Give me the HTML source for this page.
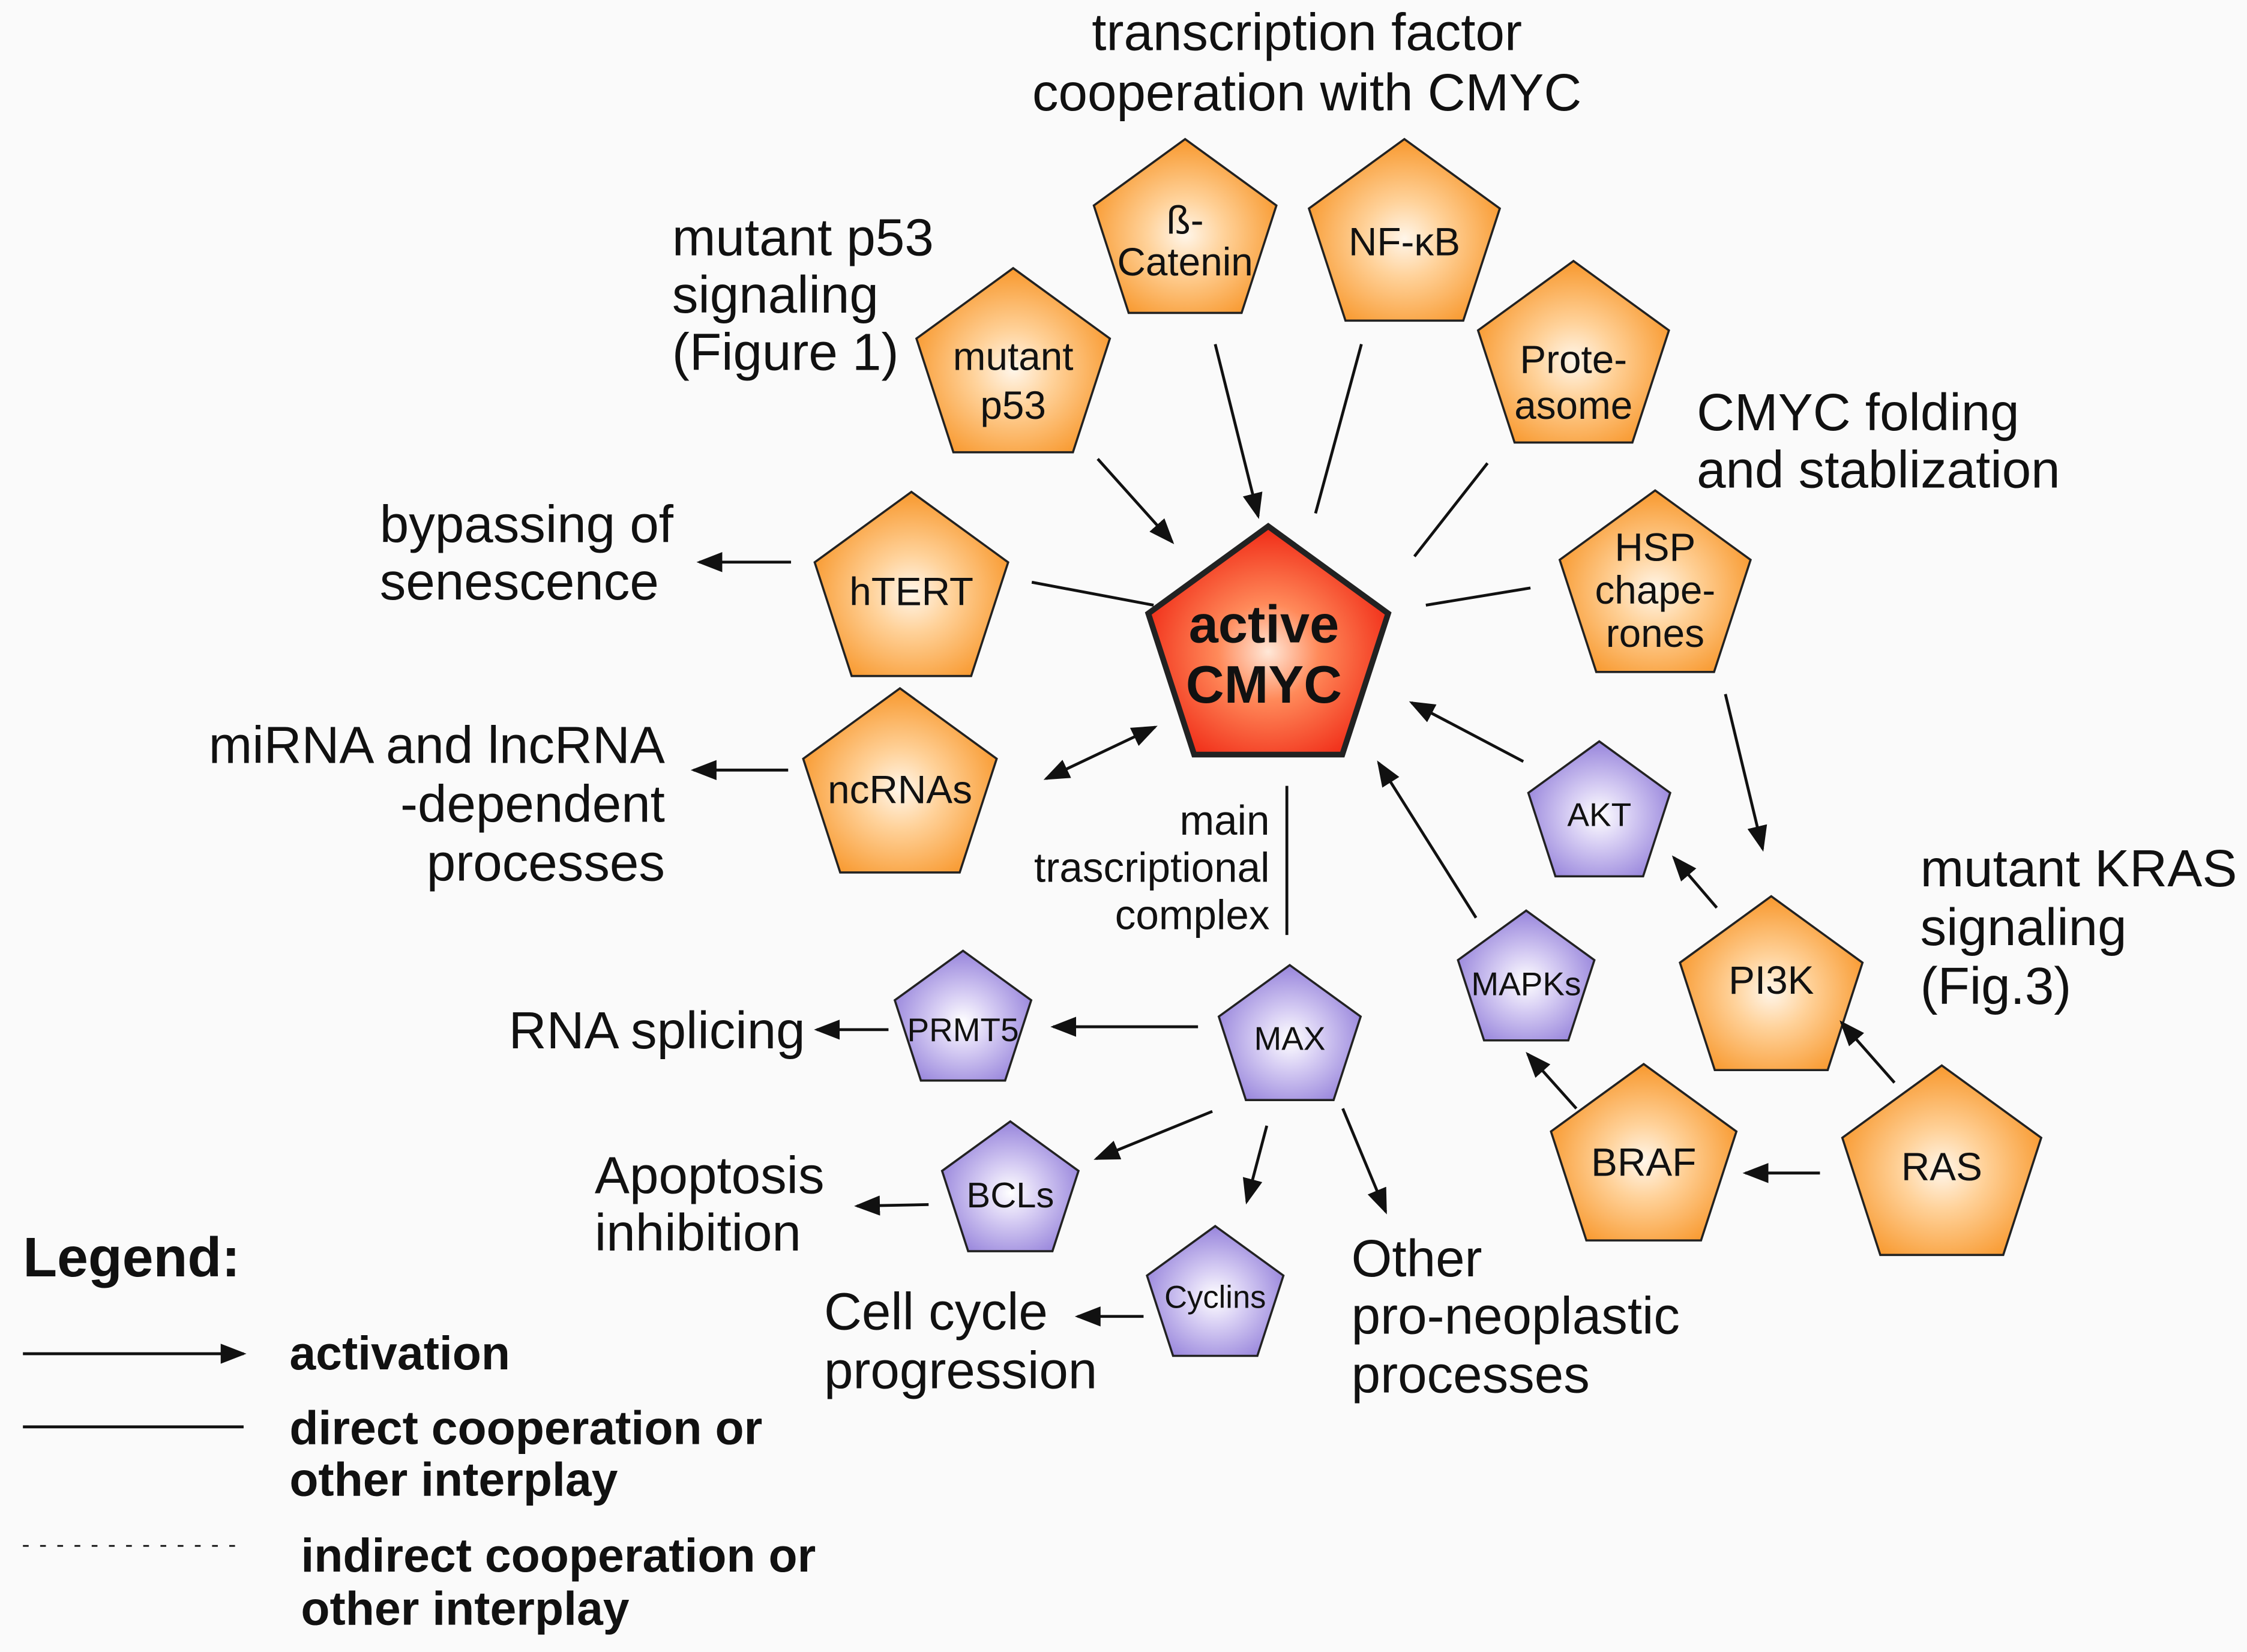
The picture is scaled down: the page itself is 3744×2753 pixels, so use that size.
<!DOCTYPE html>
<html><head><meta charset="utf-8"><style>
html,body{margin:0;padding:0;background:#fff}
svg{display:block}
text{font-family:"Liberation Sans",Arial,sans-serif;fill:#111}
</style></head><body>
<svg width="3744" height="2753" viewBox="0 0 1568 1152" preserveAspectRatio="none" xmlns="http://www.w3.org/2000/svg">
<defs>
<radialGradient id="og" cx="50%" cy="55%" r="60%"><stop offset="0" stop-color="#fff6ea"/><stop offset="0.35" stop-color="#ffd29a"/><stop offset="1" stop-color="#f7901e"/></radialGradient>
<radialGradient id="pg" cx="50%" cy="55%" r="60%"><stop offset="0" stop-color="#ffffff"/><stop offset="0.35" stop-color="#d8cff4"/><stop offset="1" stop-color="#8e7ad8"/></radialGradient>
<radialGradient id="rg" cx="50%" cy="55%" r="60%"><stop offset="0" stop-color="#ffe8d8"/><stop offset="0.35" stop-color="#ff8a5a"/><stop offset="1" stop-color="#ee1c0c"/></radialGradient>
<marker id="ah" markerUnits="userSpaceOnUse" markerWidth="18" markerHeight="14" refX="16" refY="7" orient="auto"><path d="M0,0 L18,7 L0,14 z" fill="#111"/></marker>
<marker id="as" markerUnits="userSpaceOnUse" markerWidth="18" markerHeight="14" refX="2" refY="7" orient="auto"><path d="M18,0 L0,7 L18,14 z" fill="#111"/></marker>
</defs>
<rect x="0" y="0" width="1568" height="1152" fill="#fafafa"/>
<g id="pents" stroke="#222" stroke-width="1.5">
</g>
<script>
(function(){
var P=[
[827,164,67,'og'],[980,167,70,'og'],[707,258,71,'og'],[1098,252,70,'og'],[636,414,71,'og'],
[1155,412,70,'og'],[628,551,71,'og'],[1236,692,67,'og'],[1355,816,73,'og'],[1147,810,68,'og'],
[1116,569,52,'pg'],[1065,685,50,'pg'],[900,725,52,'pg'],[672,713,50,'pg'],[705,832,50,'pg'],[848,905,50,'pg'],
[885,455,88,'rg']];
var g=document.getElementById('pents');var ns='http://www.w3.org/2000/svg';
P.forEach(function(p){var pts=[];for(var i=0;i<5;i++){var a=-Math.PI/2+i*2*Math.PI/5;pts.push((p[0]+p[2]*Math.cos(a)).toFixed(1)+','+(p[1]+p[2]*Math.sin(a)).toFixed(1));}
var e=document.createElementNS(ns,'polygon');e.setAttribute('points',pts.join(' '));e.setAttribute('fill','url(#'+p[3]+')');if(p[3]=='rg')e.setAttribute('stroke-width','4');g.appendChild(e);});
})();
</script>
<g stroke="#111" stroke-width="2" fill="none">
<line x1="766" y1="320" x2="818" y2="378" marker-end="url(#ah)"/>
<line x1="848" y1="240" x2="878" y2="360" marker-end="url(#ah)"/>
<line x1="950" y1="240" x2="918" y2="358"/>
<line x1="1038" y1="323" x2="987" y2="388"/>
<line x1="720" y1="406" x2="805" y2="422"/>
<line x1="1068" y1="410" x2="995" y2="422"/>
<line x1="552" y1="392" x2="488" y2="392" marker-end="url(#ah)"/>
<line x1="550" y1="537" x2="484" y2="537" marker-end="url(#ah)"/>
<line x1="730" y1="543" x2="806" y2="507" marker-end="url(#ah)" marker-start="url(#as)"/>
<line x1="1063" y1="531" x2="985" y2="490" marker-end="url(#ah)"/>
<line x1="1030" y1="640" x2="962" y2="532" marker-end="url(#ah)"/>
<line x1="1204" y1="484" x2="1230" y2="592" marker-end="url(#ah)"/>
<line x1="1198" y1="633" x2="1168" y2="598" marker-end="url(#ah)"/>
<line x1="1322" y1="755" x2="1285" y2="713" marker-end="url(#ah)"/>
<line x1="1270" y1="818" x2="1218" y2="818" marker-end="url(#ah)"/>
<line x1="1100" y1="773" x2="1066" y2="735" marker-end="url(#ah)"/>
<line x1="898" y1="548" x2="898" y2="652"/>
<line x1="836" y1="716" x2="735" y2="716" marker-end="url(#ah)"/>
<line x1="620" y1="718" x2="570" y2="718" marker-end="url(#ah)"/>
<line x1="846" y1="775" x2="765" y2="808" marker-end="url(#ah)"/>
<line x1="648" y1="840" x2="598" y2="841" marker-end="url(#ah)"/>
<line x1="884" y1="785" x2="870" y2="838" marker-end="url(#ah)"/>
<line x1="937" y1="773" x2="967" y2="845" marker-end="url(#ah)"/>
<line x1="798" y1="918" x2="752" y2="918" marker-end="url(#ah)"/>
<line x1="16" y1="944" x2="170" y2="944" marker-end="url(#ah)"/>
<line x1="16" y1="995" x2="170" y2="995"/>
<line x1="16" y1="1078" x2="165" y2="1078" stroke-width="1.2" stroke-dasharray="4,8"/>
</g>
<g font-size="36.5">
<text x="912" y="35" text-anchor="middle">transcription factor</text>
<text x="912" y="77" text-anchor="middle">cooperation with CMYC</text>
<text x="469" y="178">mutant p53</text><text x="469" y="218">signaling</text><text x="469" y="258">(Figure 1)</text>
<text x="1184" y="300">CMYC folding</text><text x="1184" y="340">and stablization</text>
<text x="265" y="378">bypassing of</text><text x="265" y="418">senescence</text>
<text x="464" y="532" text-anchor="end">miRNA and lncRNA</text><text x="464" y="573" text-anchor="end">-dependent</text><text x="464" y="614" text-anchor="end">processes</text>
<text x="1340" y="618">mutant KRAS</text><text x="1340" y="659">signaling</text><text x="1340" y="700">(Fig.3)</text>
<text x="355" y="731">RNA splicing</text>
<text x="415" y="832">Apoptosis</text><text x="415" y="872">inhibition</text>
<text x="575" y="927">Cell cycle</text><text x="575" y="968">progression</text>
<text x="943" y="890">Other</text><text x="943" y="930">pro-neoplastic</text><text x="943" y="971">processes</text>
</g>
<g font-size="29" text-anchor="end">
<text x="886" y="582">main</text><text x="886" y="615">trascriptional</text><text x="886" y="648">complex</text>
</g>
<g font-weight="bold">
<text x="16" y="890" font-size="39">Legend:</text>
<g font-size="33">
<text x="202" y="955">activation</text>
<text x="202" y="1007">direct cooperation or</text><text x="202" y="1043">other interplay</text>
<text x="210" y="1096">indirect cooperation or</text><text x="210" y="1133">other interplay</text>
</g>
</g>
<g font-size="27.5" text-anchor="middle">
<text x="827" y="163">ß-</text><text x="827" y="192">Catenin</text>
<text x="980" y="178">NF-κB</text>
<text x="707" y="258">mutant</text><text x="707" y="292">p53</text>
<text x="1098" y="260">Prote-</text><text x="1098" y="292">asome</text>
<text x="636" y="422">hTERT</text>
<text x="1155" y="391">HSP</text><text x="1155" y="421">chape-</text><text x="1155" y="451">rones</text>
<text x="628" y="560">ncRNAs</text>
<text x="1236" y="693">PI3K</text>
<text x="1355" y="823">RAS</text>
<text x="1147" y="820">BRAF</text>
<text x="705" y="842" font-size="25">BCLs</text>
<text x="1116" y="576" font-size="23">AKT</text>
<text x="1065" y="694" font-size="23">MAPKs</text>
<text x="900" y="732" font-size="23">MAX</text>
<text x="672" y="726" font-size="23">PRMT5</text>
<text x="848" y="912" font-size="22">Cyclins</text>
<text x="882" y="448" font-size="37" font-weight="bold">active</text>
<text x="882" y="490" font-size="37" font-weight="bold">CMYC</text>
</g>
</svg>
</body></html>
